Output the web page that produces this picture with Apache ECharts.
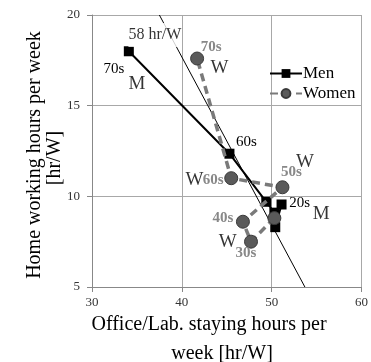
<!DOCTYPE html>
<html>
<head>
<meta charset="utf-8">
<script src="https://cdn.jsdelivr.net/npm/echarts@6/dist/echarts.min.js"></script>
<style>
  html, body { margin: 0; padding: 0; background: #fff; }
  #chart { width: 371px; height: 362px; }
</style>
</head>
<body>
<div id="chart"></div>
<script>
/* ----------  data  ---------- */
const ages = ['20s', '30s', '40s', '50s', '60s', '70s'];
const menOffice = [51.1, 50.4, 50.3, 49.4, 45.3, 34.1];
const menHome = [9.55, 8.3, 9.1, 9.7, 12.35, 18.0];
const womenOffice = [50.3, 47.7, 46.8, 51.2, 45.5, 41.7];
const womenHome = [8.8, 7.5, 8.6, 10.5, 11.0, 17.6];
// x + y = 58 hr/W guide line
const refLine = [[37.5, 20], [53.7, 5]];
const xTicks = [30, 40, 50, 60];
const yTicks = [5, 10, 15, 20];

// free text notes (text, x, y)
const notes = [
  ['M', 35.0, 16.2],
  ['M', 55.5, 9.0],
  ['W', 44.2, 17.1],
  ['W', 41.4, 10.9],
  ['W', 53.7, 11.9],
  ['W', 45.1, 7.5],
  ['58 hr/W', 37.0, 18.9],
];

/* ----------  label placement (pixel offsets from the point)  ---------- */
const menLabelOffset = { '20s': [18, -1], '60s': [17, -12], '70s': [-15, 18] };
const womenLabelOffset = {
  '30s': [-5, 11], '40s': [-20, -4], '50s': [9, -15], '60s': [-18, 2], '70s': [14, -11],
};

const FONT = "'Liberation Serif', serif";

function buildData(xs, ys, offsets, labelStyle) {
  return ages.map((a, i) => {
    const off = offsets[a];
    return {
      value: [xs[i], ys[i]],
      label: off
        ? Object.assign({ show: true, formatter: a, position: 'inside', offset: off }, labelStyle)
        : { show: false },
    };
  });
}

const chart = echarts.init(document.getElementById('chart'));

chart.setOption({
  animation: false,
  backgroundColor: '#fff',
  grid: { left: 92, right: 8, top: 15, bottom: 75, containLabel: false },
  legend: {
    left: 264,
    top: 60,
    orient: 'vertical',
    itemWidth: 32,
    itemHeight: 11,
    itemGap: 3,
    textStyle: { fontFamily: FONT, fontSize: 17, color: '#000', padding: [0, 0, 0, -4] },
    data: ['Men', 'Women'],
  },
  xAxis: {
    type: 'value',
    min: xTicks[0],
    max: xTicks[xTicks.length - 1],
    interval: 10,
    axisLine: { show: true, lineStyle: { color: '#888' } },
    axisTick: { show: true, length: 5, lineStyle: { color: '#888' } },
    axisLabel: { color: '#333', fontFamily: FONT, fontSize: 13, margin: 9 },
    splitLine: { show: true, lineStyle: { color: '#a8a8a8', width: 1 } },
  },
  yAxis: {
    type: 'value',
    min: yTicks[0],
    max: yTicks[yTicks.length - 1],
    interval: 5,
    axisLine: { show: true, lineStyle: { color: '#888' } },
    axisTick: { show: true, length: 5, lineStyle: { color: '#888' } },
    axisLabel: { color: '#333', fontFamily: FONT, fontSize: 13, margin: 12 },
    splitLine: { show: true, lineStyle: { color: '#a8a8a8', width: 1 } },
  },
  graphic: [
    {
      type: 'text', x: 35, y: 155, rotation: Math.PI / 2,
      style: { text: 'Home working hours per week', font: '20px ' + FONT, fill: '#000', textAlign: 'center', textVerticalAlign: 'middle' },
    },
    {
      type: 'text', x: 55, y: 158, rotation: Math.PI / 2,
      style: { text: '[hr/W]', font: '20px ' + FONT, fill: '#000', textAlign: 'center', textVerticalAlign: 'middle' },
    },
    {
      type: 'text', x: 209, y: 325,
      style: { text: 'Office/Lab. staying hours per', font: '20px ' + FONT, fill: '#000', textAlign: 'center', textVerticalAlign: 'middle' },
    },
    {
      type: 'text', x: 222, y: 354,
      style: { text: 'week [hr/W]', font: '20px ' + FONT, fill: '#000', textAlign: 'center', textVerticalAlign: 'middle' },
    },
  ],
  series: [
    {
      name: 'ref',
      type: 'line',
      data: refLine,
      symbol: 'none',
      z: 1,
      lineStyle: { color: '#000', width: 1 },
      silent: true,
    },
    {
      name: 'notes',
      type: 'scatter',
      symbolSize: 0,
      z: 5,
      data: notes.map(n => ({
        value: [n[1], n[2]],
        label: n[0] === '58 hr/W'
          ? { show: true, formatter: n[0], position: 'inside', fontFamily: FONT, fontSize: 16, color: '#000', backgroundColor: '#fff', padding: [4, 0] }
          : { show: true, formatter: n[0], position: 'inside', fontFamily: FONT, fontSize: 19, color: '#000' },
      })),
    },
    {
      name: 'Men',
      type: 'line',
      z: 3,
      symbol: 'rect',
      symbolSize: 10,
      itemStyle: { color: '#000' },
      lineStyle: { color: '#000', width: 2 },
      data: buildData(menOffice, menHome, menLabelOffset, { fontFamily: FONT, fontSize: 15, color: '#000' }),
    },
    {
      name: 'Women',
      type: 'line',
      z: 4,
      symbol: 'circle',
      symbolSize: 13,
      itemStyle: { color: '#5a5a5a', borderColor: '#3a3a3a', borderWidth: 1 },
      lineStyle: { color: '#7a7a7a', width: 3.5, type: [8, 5] },
      data: buildData(womenOffice, womenHome, womenLabelOffset, { fontFamily: FONT, fontSize: 15, fontWeight: 'bold', color: '#888' }),
    },
  ],
});
</script>
</body>
</html>
